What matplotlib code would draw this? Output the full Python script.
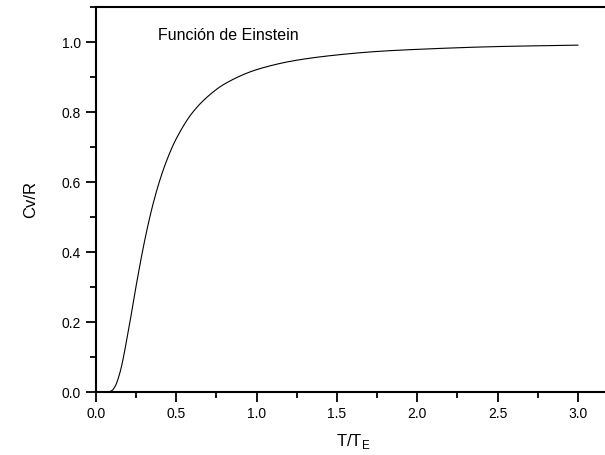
import matplotlib
matplotlib.use("Agg")
import matplotlib.pyplot as plt
from matplotlib.ticker import MultipleLocator
import numpy as np

plt.rcParams['font.family'] = ['Liberation Sans', 'DejaVu Sans']

# Values (T/T_E, Cv/R)
t_ratio = [0.05, 0.08, 0.10, 0.12, 0.15, 0.20, 0.25, 0.30, 0.35, 0.40, 0.45,
           0.50, 0.60, 0.70, 0.80, 1.00, 1.25, 1.50, 1.75, 2.00, 2.50, 3.00]
cv_r = [0.000, 0.0006, 0.0045, 0.017, 0.057, 0.171, 0.304, 0.426, 0.528, 0.609, 0.673,
        0.724, 0.798, 0.846, 0.880, 0.921, 0.948, 0.963, 0.973, 0.979, 0.987, 0.991]

x_ticks = [0.0, 0.5, 1.0, 1.5, 2.0, 2.5, 3.0]
y_ticks = [0.0, 0.2, 0.4, 0.6, 0.8, 1.0]
label_text = "Función de Einstein"

fig = plt.figure(figsize=(6.05, 4.55), dpi=100)
ax = fig.add_axes([96/605, 63/455, 514/605, 385/455])

xs = np.array(t_ratio)
ys = np.array(cv_r)

# monotone piecewise cubic (PCHIP) for smooth drawing between read points
def pchip(x, y, xn):
    h = np.diff(x); d = np.diff(y) / h
    m = np.zeros_like(y)
    for k in range(1, len(x) - 1):
        if d[k-1] * d[k] > 0:
            w1 = 2*h[k] + h[k-1]; w2 = h[k] + 2*h[k-1]
            m[k] = (w1 + w2) / (w1/d[k-1] + w2/d[k])
    m[0] = d[0]; m[-1] = d[-1]
    out = np.empty_like(xn)
    idx = np.clip(np.searchsorted(x, xn) - 1, 0, len(x) - 2)
    for j, (xv, k) in enumerate(zip(xn, idx)):
        s = (xv - x[k]) / h[k]
        h00 = 2*s**3 - 3*s**2 + 1; h10 = s**3 - 2*s**2 + s
        h01 = -2*s**3 + 3*s**2; h11 = s**3 - s**2
        out[j] = h00*y[k] + h10*h[k]*m[k] + h01*y[k+1] + h11*h[k]*m[k+1]
    return out

xn = np.linspace(xs[0], xs[-1], 600)
ax.plot(xn, pchip(xs, ys, xn), color='black', lw=0.8)

ax.set_xlim(0, 3.2)
ax.set_ylim(0, 1.1)
ax.set_xticks(x_ticks)
ax.set_yticks(y_ticks)
ax.set_xticklabels([f"{v:.1f}" for v in x_ticks])
ax.set_yticklabels([f"{v:.1f}" for v in y_ticks])
ax.xaxis.set_minor_locator(MultipleLocator(0.25))
ax.yaxis.set_minor_locator(MultipleLocator(0.1))
ax.tick_params(which='major', direction='out', length=7, width=1.3, labelsize=10, pad=4)
ax.tick_params(which='minor', direction='out', length=4, width=1.3)
ax.spines['right'].set_visible(False)
for s in ['left', 'bottom', 'top']:
    ax.spines[s].set_linewidth(1.5)

ax.set_xlabel("T/T$_\\mathregular{E}$", fontsize=12, labelpad=8)
ax.set_ylabel("Cv/R", fontsize=12, labelpad=17)
ax.text(0.385, 1.02, label_text, fontsize=11.5, va='center', ha='left')

fig.savefig("out.png", dpi=100)
